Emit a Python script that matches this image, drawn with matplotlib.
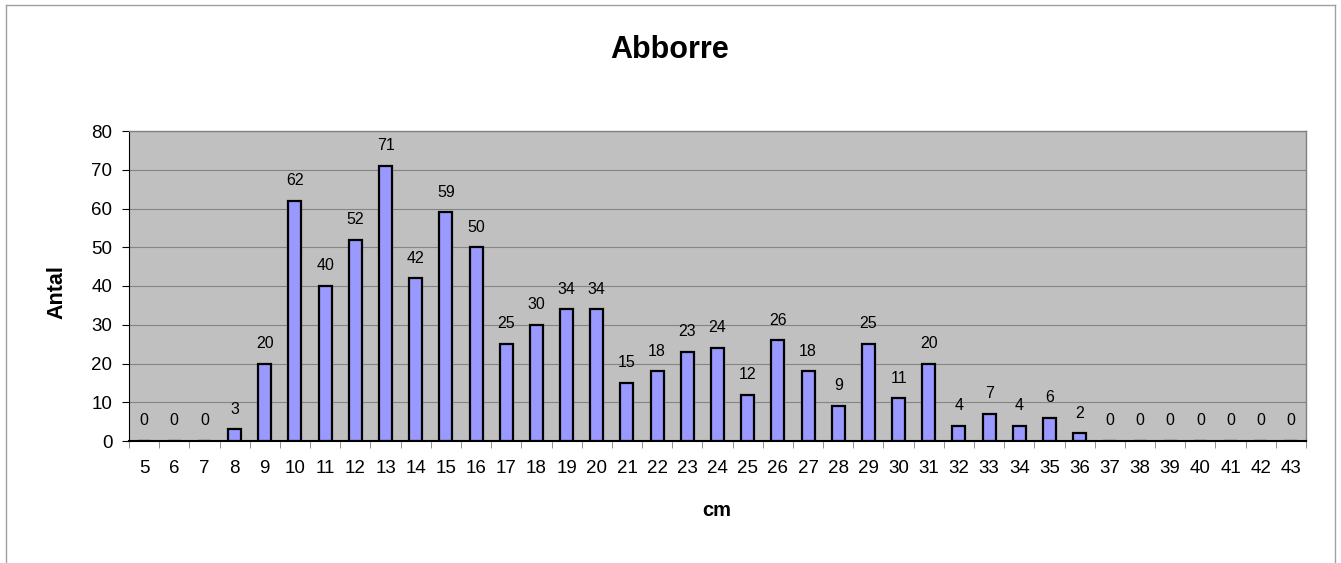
import matplotlib
matplotlib.use("Agg")
import matplotlib.pyplot as plt
from matplotlib.lines import Line2D
import numpy as np

plt.rcParams['font.family'] = ['Liberation Sans', 'DejaVu Sans']

categories = [str(c) for c in range(5, 44)]
values = [0, 0, 0, 3, 20, 62, 40, 52, 71, 42, 59, 50, 25, 30, 34, 34, 15, 18, 23, 24,
          12, 26, 18, 9, 25, 11, 20, 4, 7, 4, 6, 2, 0, 0, 0, 0, 0, 0, 0]
yticks = [0, 10, 20, 30, 40, 50, 60, 70, 80]

W, H = 1341, 563
fig = plt.figure(figsize=(W / 100, H / 100), dpi=100)
ax = fig.add_axes([129 / W, 1 - 441 / H, (1306 - 129) / W, (441 - 131) / H])

x = np.arange(len(categories))
ax.bar(x, values, width=0.43, color='#9999FF', edgecolor='black', linewidth=1.6, zorder=3)
for xi, v in zip(x, values):
    ax.annotate(str(v), (xi, v), xytext=(0, 14.5), textcoords='offset points',
                ha='center', va='center', fontsize=11.5, color='black')

ax.set_xlim(-0.5, len(categories) - 0.5)
ax.set_ylim(0, 80)
ax.set_facecolor('#C0C0C0')
ax.set_yticks(yticks)
ax.set_yticklabels([str(t) for t in yticks], fontsize=13.5)
ax.yaxis.grid(True, color='#858585', linewidth=0.8, zorder=0)
ax.set_axisbelow(True)

ax.set_xticks(x)
ax.set_xticklabels(categories, fontsize=13.5)
ax.set_xticks(np.arange(-0.5, len(categories), 1), minor=True)
ax.tick_params(axis='x', which='major', length=0, pad=14)
ax.tick_params(axis='x', which='minor', length=5, color='#808080', direction='out')
ax.tick_params(axis='y', length=5, direction='out', color='black', pad=7)

for s in ['top', 'right']:
    ax.spines[s].set_color('#808080')
    ax.spines[s].set_linewidth(1)
ax.spines['left'].set_color('black')
ax.spines['bottom'].set_color('black')
ax.spines['bottom'].set_linewidth(1.5)

fig.text(717 / W, 1 - 511 / H, 'cm', ha='center', va='center', fontsize=14.5, fontweight='bold')
fig.text(57 / W, 1 - 292 / H, 'Antal', ha='center', va='center', rotation=90,
         fontsize=15.5, fontweight='bold')
fig.text(670 / W, 1 - 50 / H, 'Abborre', ha='center', va='center',
         fontsize=22, fontweight='bold')

# chart frame
fx0, fx1, fy0 = 6 / W, 1335 / W, 1 - 5 / H
for xs, ys in [([fx0, fx0], [0, fy0]), ([fx1, fx1], [0, fy0]), ([fx0, fx1], [fy0, fy0])]:
    fig.add_artist(Line2D(xs, ys, color='#a0a0a0', linewidth=1, transform=fig.transFigure))

fig.savefig('out.png', dpi=100)
